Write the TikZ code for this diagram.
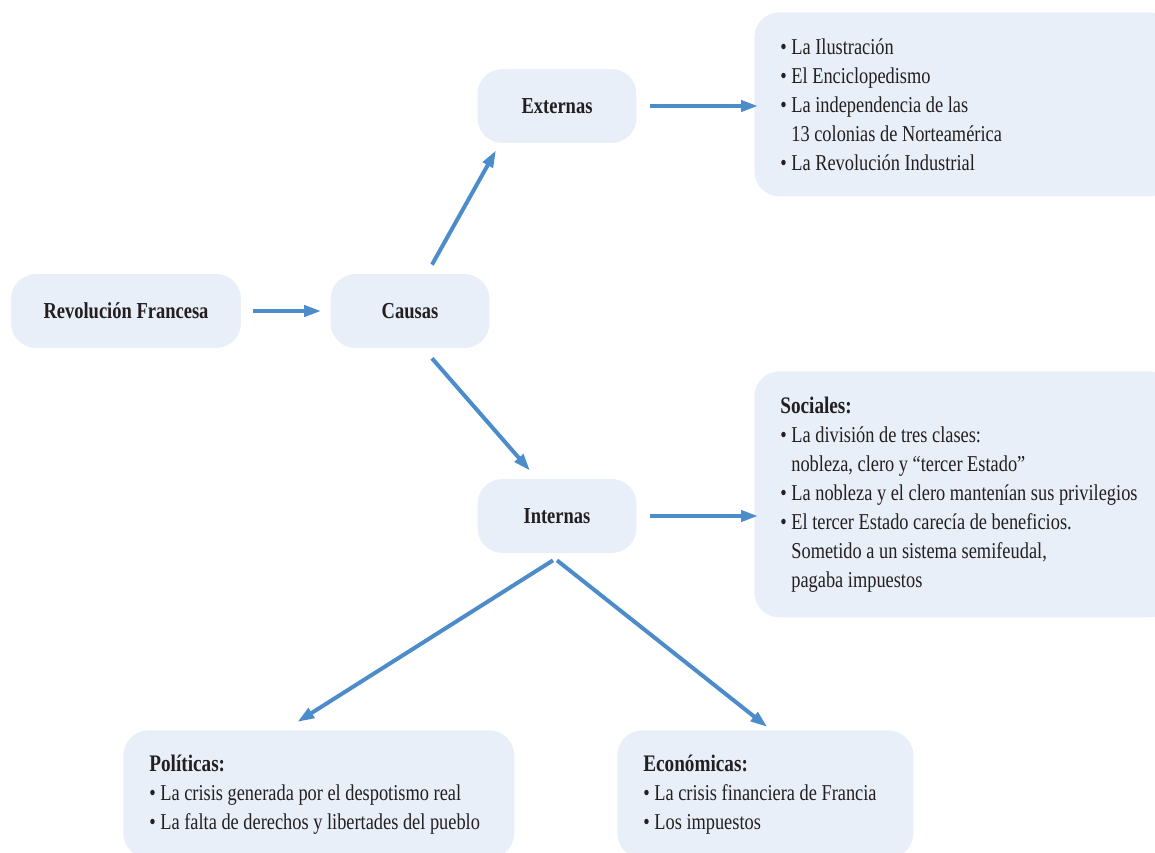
\documentclass[tikz,border=0pt]{standalone}
\usepackage{fontspec}
\setmainfont{Liberation Serif}[FakeStretch=0.81]
\usetikzlibrary{arrows.meta}

\definecolor{boxfill}{RGB}{232,239,248}
\definecolor{arrowblue}{RGB}{76,140,203}
\definecolor{inkgray}{RGB}{35,31,32}
\newcommand{\itm}{\textbullet\ }
\newcommand{\ind}{\phantom{\textbullet\ }}
\newcommand{\hd}[1]{{\fontsize{13.5}{16.5}\selectfont\bfseries #1}}

\begin{document}
\begin{tikzpicture}[x=0.02cm, y=-0.02cm,
	keybox/.style={rectangle, rounded corners=0.5cm, fill=boxfill, text=inkgray, 
	minimum height=1.48cm, font=\fontsize{13}{15}\selectfont\bfseries},
	listbox/.style={rectangle, rounded corners=0.5cm, fill=boxfill, text=inkgray, 
	anchor=north west, align=flush left, inner xsep=0.52cm, 
	font={\fontsize{12.9}{16.5}\selectfont\hyphenpenalty=10000\relax}},
	link/.style={draw=arrowblue, line width=0.08cm, -{Triangle[length=0.34cm, width=0.22cm]}}]
		
		\useasboundingbox (0,0) rectangle (1155,852);
		\clip (0,0) rectangle (1155,852);
		
		%Main boxes
		\node (revolucion) at (126,311) [keybox, minimum width=4.6cm] {Revolución Francesa};
		\node (causas) at (410,311) [keybox, minimum width=3.18cm] {Causas};
		\node (externas) at (557,106) [keybox, minimum width=3.18cm] {Externas};
		\node (internas) at (557,516) [keybox, minimum width=3.18cm] {Internas};
		
		%Lists
		\node (extList) at (754,12) [listbox, minimum width=8.4cm, minimum height=3.68cm, 
		text width=7.36cm] {\itm La Ilustración\\ \itm El Enciclopedismo\\ 
		\itm La independencia de las\\ \ind 13 colonias de Norteamérica\\ 
		\itm La Revolución Industrial};
		\node (sociales) at (754,371) [listbox, minimum width=8.4cm, minimum height=4.92cm, 
		text width=7.36cm] {\hd{Sociales:}\\ \itm La división de tres clases:\\ 
		\ind nobleza, clero y “tercer Estado”\\ \itm La nobleza y el clero mantenían sus privilegios\\ 
		\itm El tercer Estado carecía de beneficios.\\ \ind Sometido a un sistema semifeudal,\\ 
		\ind pagaba impuestos};
		\node (politicas) at (123,730) [listbox, minimum width=7.82cm, minimum height=2.56cm, 
		text width=6.78cm] {\hd{Políticas:}\\ \itm La crisis generada por el despotismo real\\ 
		\itm La falta de derechos y libertades del pueblo};
		\node (economicas) at (617,730) [listbox, minimum width=5.92cm, minimum height=2.56cm, 
		text width=4.88cm] {\hd{Económicas:}\\ \itm La crisis financiera de Francia\\ 
		\itm Los impuestos};
		
		%Arrows
		\draw[link, shorten <=0.24cm, shorten >=0.18cm] (revolucion) -- (causas);
		\draw[link] ([xshift=0.44cm, yshift=0.18cm]causas.north) -- ([xshift=-1.22cm, yshift=-0.14cm]externas.south);
		\draw[link] ([xshift=0.44cm, yshift=-0.2cm]causas.south) -- ([xshift=-0.54cm, yshift=0.16cm]internas.north);
		\draw[link, shorten <=0.26cm, shorten >=-0.08cm] (externas.east) -- (externas.east -| extList.west);
		\draw[link, shorten <=0.26cm, shorten >=-0.08cm] (internas.east) -- (internas.east -| sociales.west);
		\draw[link] ([xshift=-0.08cm, yshift=-0.14cm]internas.south) -- ([xshift=-0.43cm, yshift=0.16cm]politicas.north);
		\draw[link] ([yshift=-0.14cm]internas.south) -- ([xshift=0.04cm, yshift=0.06cm]economicas.north);
		
		\end{tikzpicture}
\end{document}
